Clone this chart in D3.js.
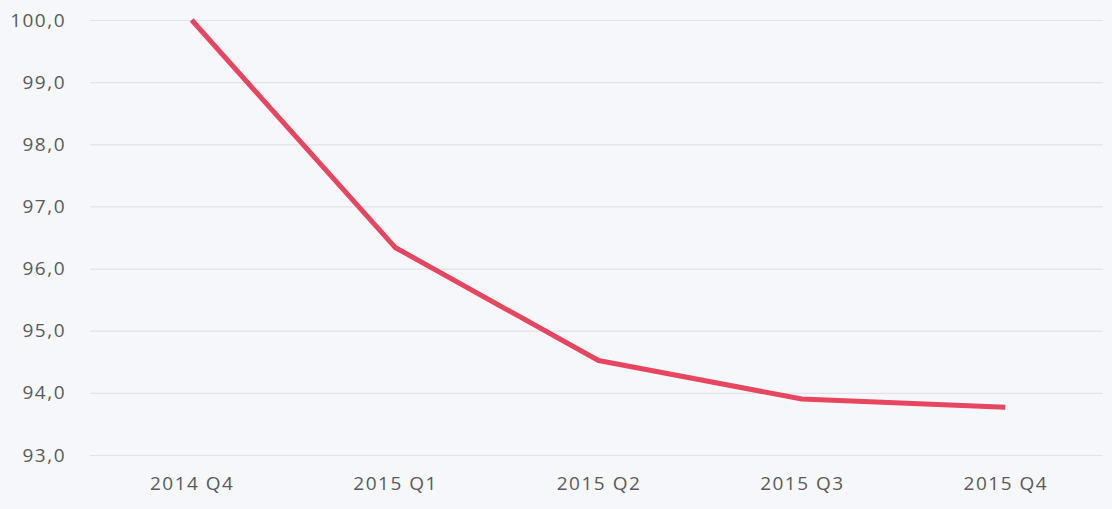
<!DOCTYPE html>
<html>
<head>
<meta charset="utf-8">
<script src="https://cdn.jsdelivr.net/npm/d3@7"></script>
<style>
  html, body { margin: 0; padding: 0; background: #f6f7fb; }
  svg { display: block; }
</style>
</head>
<body>
<svg id="chart"></svg>
<script>
    'use strict';

    var quarters = ['2014 Q4', '2015 Q1', '2015 Q2', '2015 Q3', '2015 Q4'];
    var index = [100.0, 96.34, 94.52, 93.9, 93.77];
    var yTicks = [93, 94, 95, 96, 97, 98, 99, 100];

    (function() {
        var width = 1112;
        var height = 509;
        var marginLeft = 90;
        var plotRight = 1107;
        var plotTop = 20;
        var plotBottom = 455;

        var svg = d3.select('#chart')
            .attr('width', width)
            .attr('height', height);

        var x = d3.scalePoint()
            .domain(quarters)
            .range([marginLeft, plotRight])
            .padding(0.5);

        var y = d3.scaleLinear()
            .domain([93, 100])
            .range([plotBottom, plotTop]);

        var fmt = function(d) { return d3.format('.1f')(d).replace('.', ','); };

        // gridlines + y labels
        var yAxis = svg.append('g')
            .attr('transform', 'translate(' + marginLeft + ',0)')
            .call(d3.axisLeft(y)
                .tickValues(yTicks)
                .tickSize(-(plotRight - marginLeft - 4))
                .tickPadding(24)
                .tickFormat(fmt));
        yAxis.select('.domain').remove();
        yAxis.selectAll('.tick line')
            .attr('stroke', '#e1e2ea')
            .attr('stroke-width', 1.2);
        yAxis.selectAll('.tick text')
            .attr('fill', '#5a5a5a')
            .attr('font-family', '"Open Sans", sans-serif')
            .attr('font-size', 19)
            .attr('letter-spacing', 1.5);

        // x labels
        var xAxis = svg.append('g')
            .attr('transform', 'translate(0,' + plotBottom + ')')
            .call(d3.axisBottom(x).tickSize(0).tickPadding(22));
        xAxis.select('.domain').remove();
        xAxis.selectAll('.tick text')
            .attr('fill', '#5a5a5a')
            .attr('font-family', '"Open Sans", sans-serif')
            .attr('font-size', 19)
            .attr('letter-spacing', 1.5);

        var line = d3.line()
            .x(function(d, i) { return x(quarters[i]); })
            .y(function(d) { return y(d); })
            .curve(d3.curveLinear);

        svg.append('path')
            .datum(index)
            .attr('d', line)
            .attr('fill', 'none')
            .attr('stroke', '#e6465f')
            .attr('stroke-width', 5)
            .attr('stroke-linejoin', 'round');
    })();
</script>
</body>
</html>
